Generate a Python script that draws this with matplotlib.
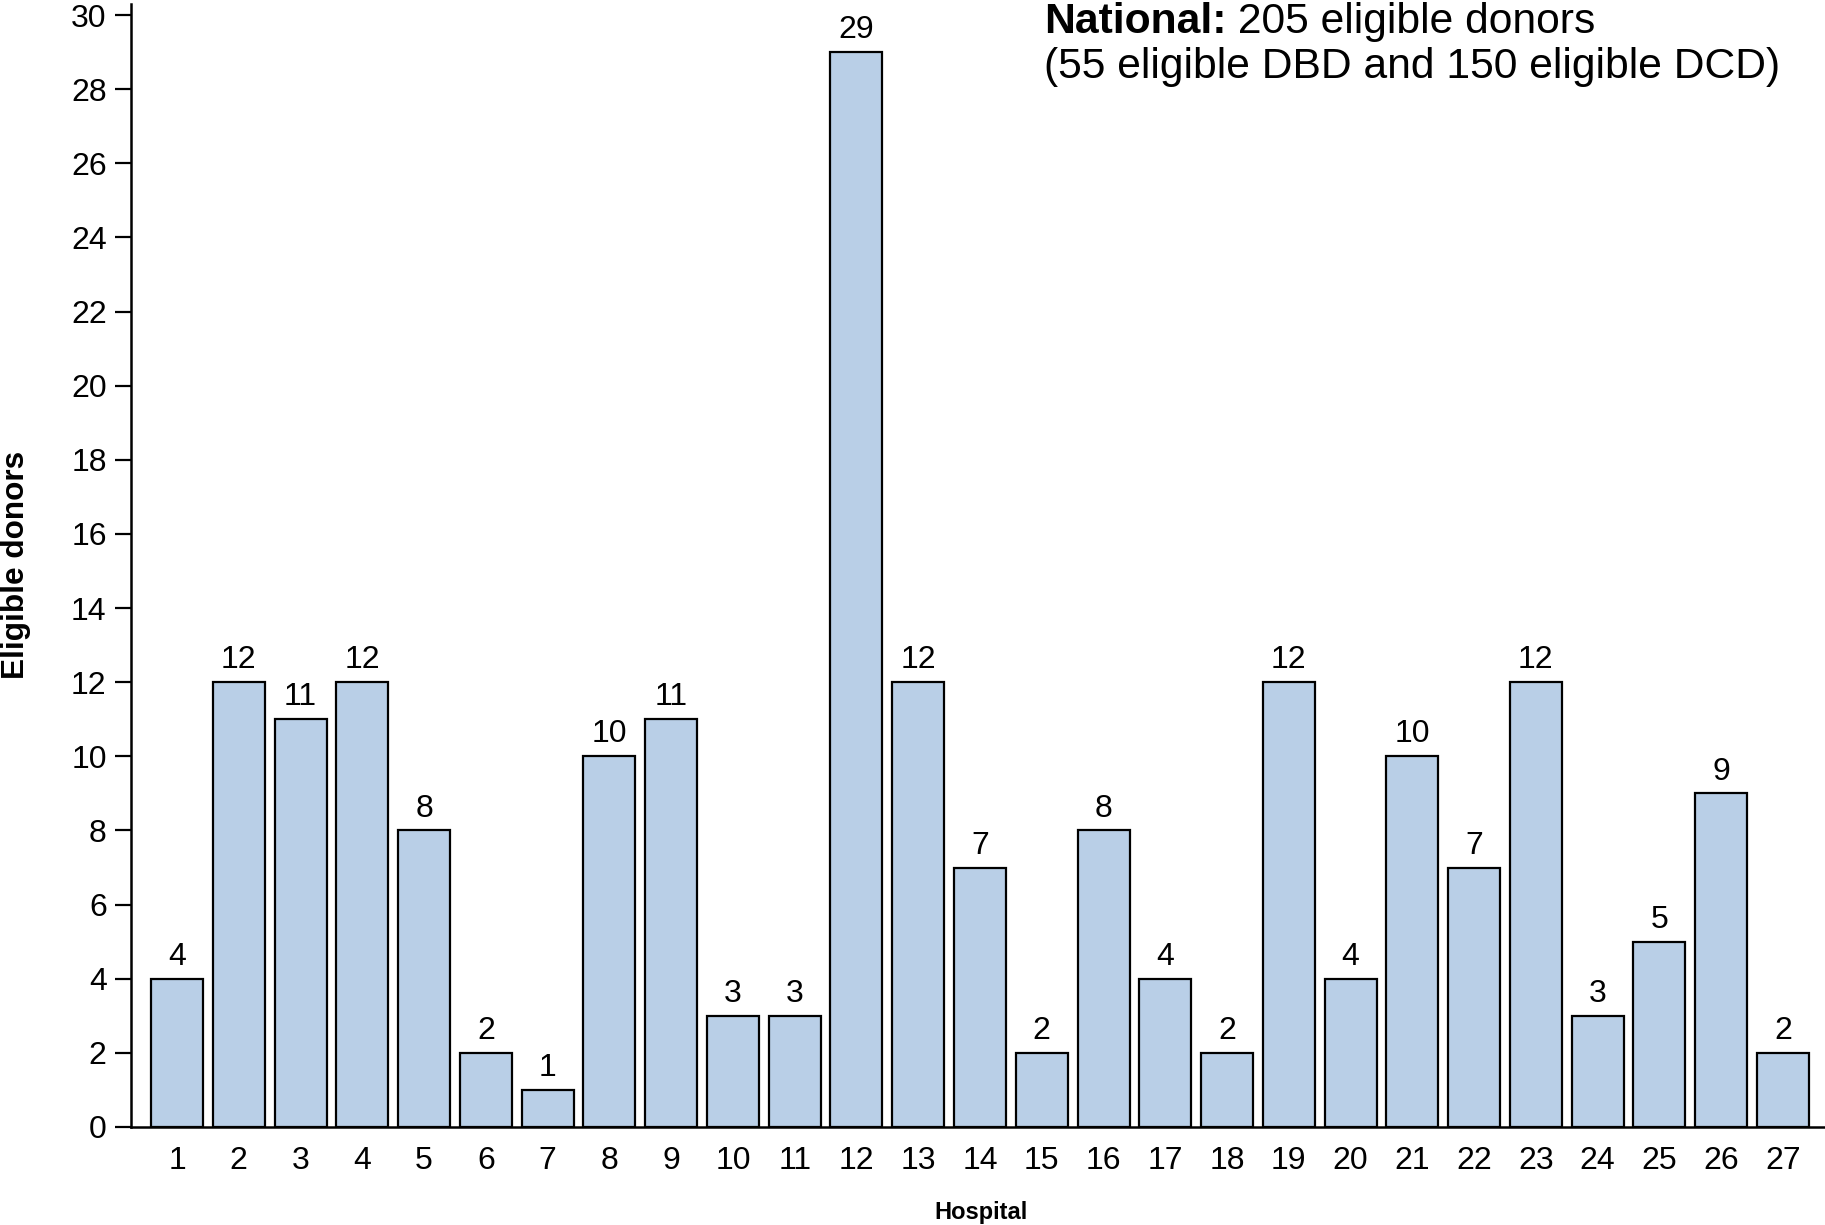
import numpy as np
import matplotlib.pyplot as plt

plt.rcParams['font.family'] = ['Liberation Sans', 'DejaVu Sans']

hospitals = list(range(1, 28))
donors = [4, 12, 11, 12, 8, 2, 1, 10, 11, 3, 3, 29, 12, 7, 2, 8, 4, 2, 12, 4, 10, 7, 12, 3, 5, 9, 2]
yticks = list(range(0, 31, 2))

fig = plt.figure(figsize=(18.25, 12.25), dpi=100)
ax = fig.add_axes([131 / 1825, 1 - 1127 / 1225, 1 - 131 / 1825, (1127 - 4) / 1225])

bars = ax.bar(hospitals, donors, width=0.842, color='#b9cfe7', edgecolor='black', linewidth=1.6)
for x, v in zip(hospitals, donors):
    ax.annotate(str(v), (x, v), xytext=(0, 10), textcoords='offset points',
                ha='center', va='baseline', fontsize=23)

ax.set_xlim(0.255, 27.68)
ax.set_ylim(0, 30.3)
ax.set_xticks(hospitals)
ax.set_yticks(yticks)
ax.tick_params(axis='x', length=0, pad=14, labelsize=23)
ax.tick_params(axis='y', length=11.5, width=1.6, pad=6, labelsize=23)
for s in ['top', 'right']:
    ax.spines[s].set_visible(False)
for s in ['left', 'bottom']:
    ax.spines[s].set_linewidth(1.8)

fig.text(16 / 1825, 1 - 565 / 1225, 'Eligible donors', rotation=90, ha='center', va='center',
         fontsize=22.7, fontweight='bold')
fig.text(981 / 1825, 1 - 1212 / 1225, 'Hospital', ha='center', va='center',
         fontsize=17, fontweight='bold')

# national summary, two lines at top right
t1 = fig.text(1044 / 1825, 1 - 33 / 1225, 'National:', ha='left', va='baseline',
              fontsize=30.7, fontweight='bold')
ax.annotate(' 205 eligible donors', xy=(1, 0), xycoords=t1, ha='left', va='bottom', fontsize=30.7,
            annotation_clip=False)
fig.text(1044 / 1825, 1 - 78 / 1225, '(55 eligible DBD and 150 eligible DCD)', ha='left',
         va='baseline', fontsize=30.7)

fig.savefig('out.png', dpi=100)
